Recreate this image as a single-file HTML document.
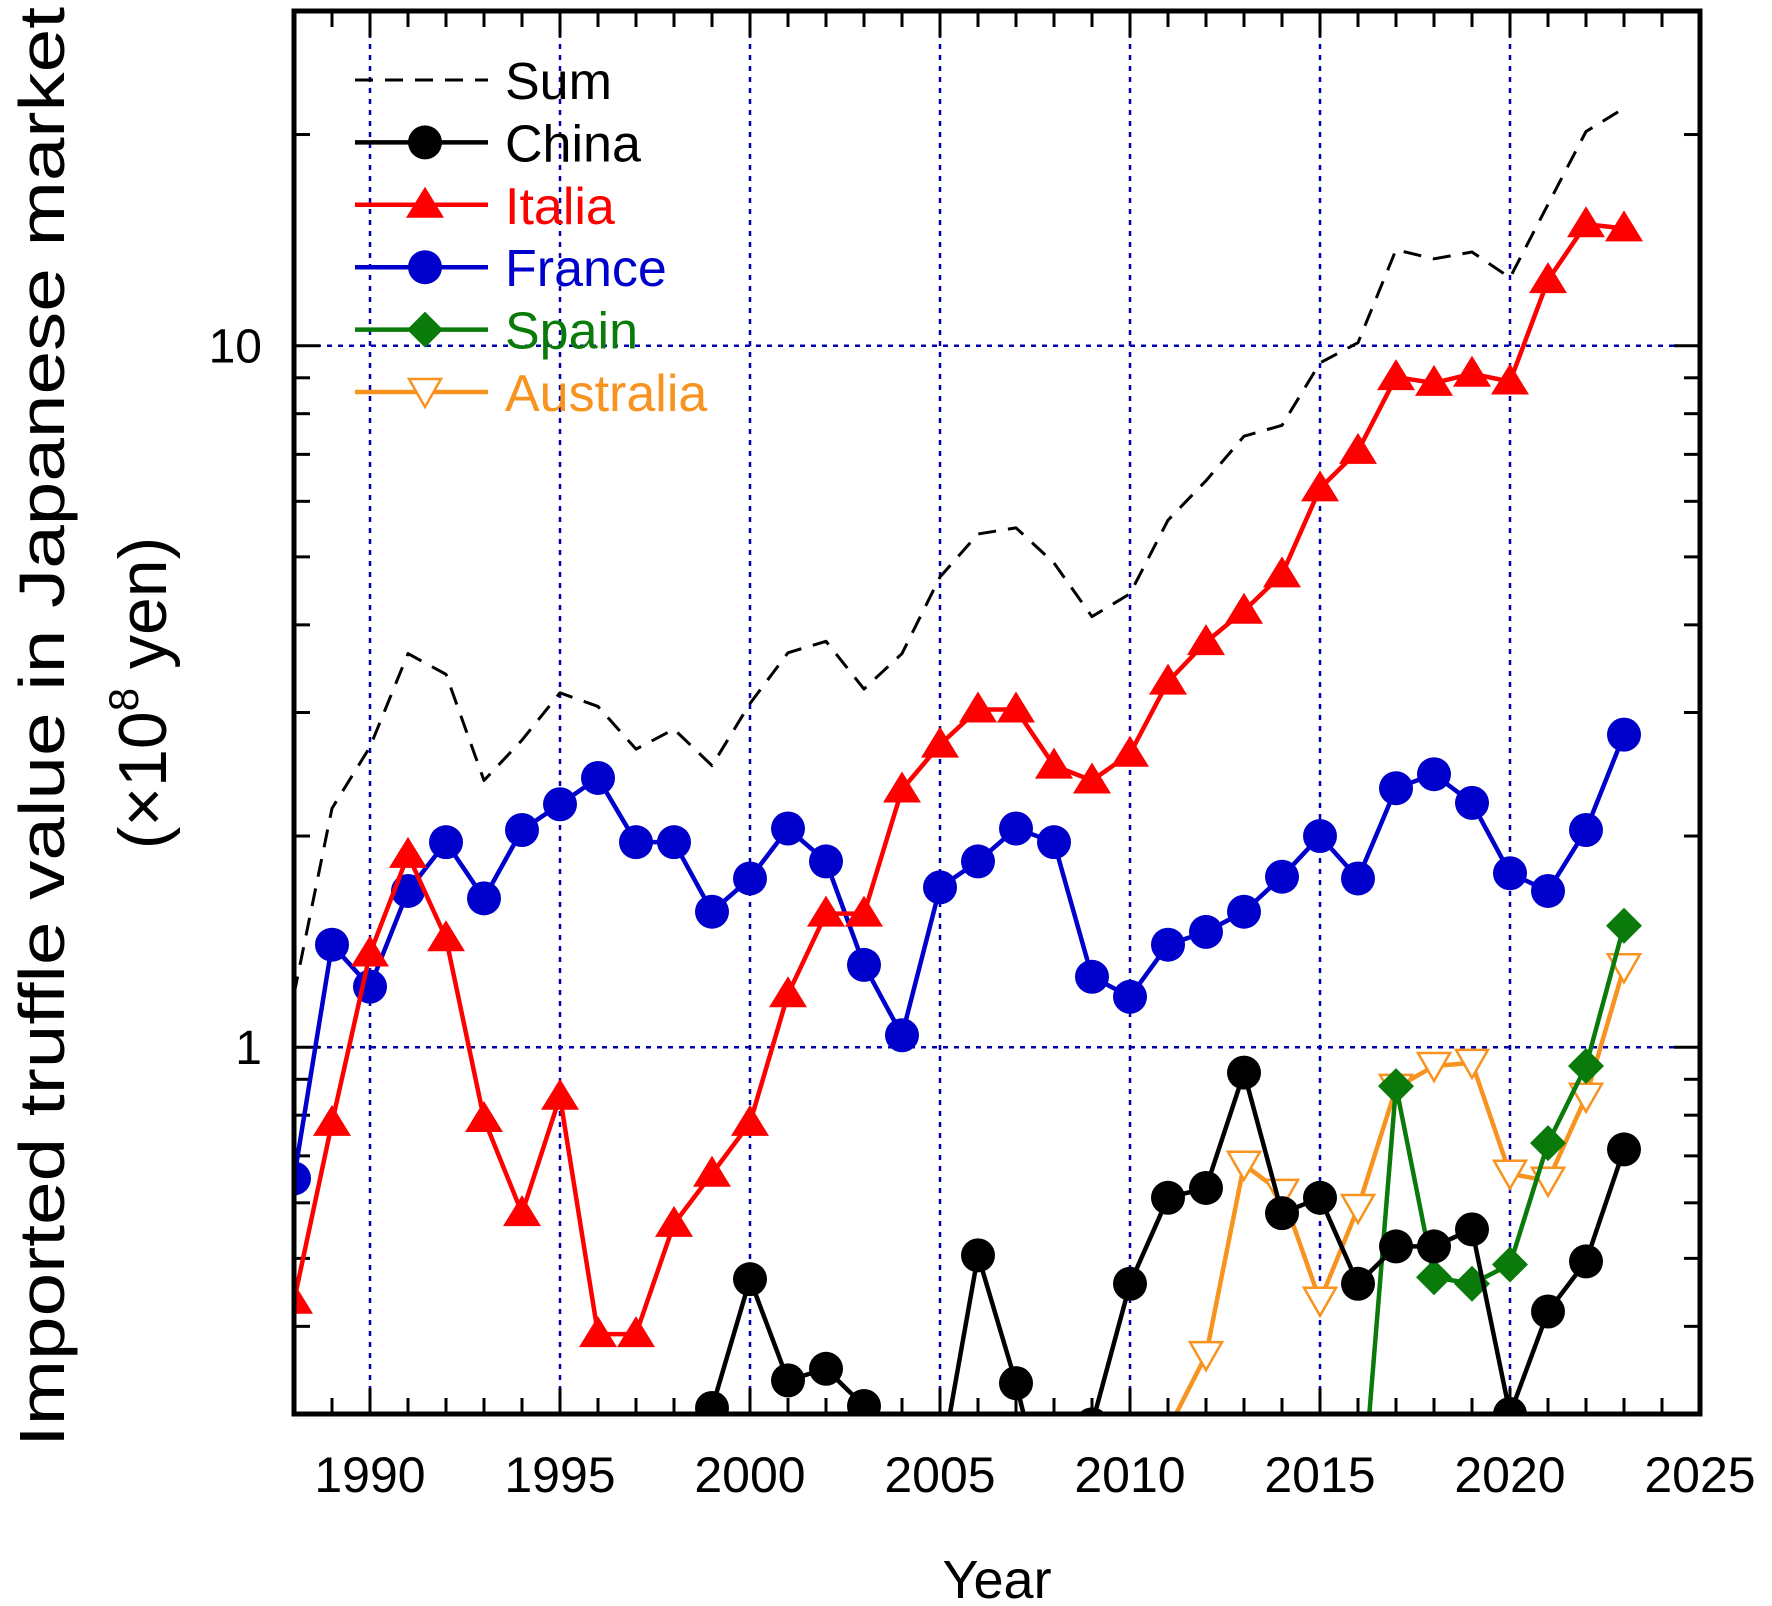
<!DOCTYPE html>
<html><head><meta charset="utf-8"><style>
body{margin:0;background:#fff}
svg{display:block;font-family:"Liberation Sans",Arial,sans-serif}
</style></head><body>
<svg id="chart" width="1772" height="1606" viewBox="0 0 1772 1606"></svg>
<script>
const years = [1988,1989,1990,1991,1992,1993,1994,1995,1996,1997,1998,1999,2000,2001,2002,2003,2004,2005,2006,2007,2008,2009,2010,2011,2012,2013,2014,2015,2016,2017,2018,2019,2020,2021,2022,2023];
const sumValues = [1.19,2.19,2.68,3.64,3.4,2.4,2.74,3.2,3.06,2.66,2.84,2.52,3.09,3.65,3.79,3.24,3.64,4.68,5.39,5.5,4.9,4.11,4.43,5.64,6.42,7.43,7.7,9.45,10.1,13.7,13.3,13.6,12.5,15.9,20.2,21.8];
const chinaValues = [null,null,null,null,null,null,null,null,null,null,null,0.306,0.467,0.335,0.348,0.308,0.2,0.25,0.505,0.332,0.2,0.29,0.46,0.61,0.63,0.92,0.58,0.61,0.46,0.52,0.52,0.55,0.30,0.42,0.495,0.715];
const italiaValues = [0.435,0.78,1.36,1.88,1.43,0.79,0.58,0.85,0.39,0.39,0.56,0.66,0.78,1.19,1.55,1.55,2.33,2.7,3.03,3.03,2.52,2.4,2.62,3.32,3.78,4.19,4.72,6.26,7.08,9.02,8.85,9.12,8.89,12.4,14.9,14.7];
const franceValues = [0.65,1.4,1.22,1.67,1.96,1.63,2.04,2.22,2.42,1.96,1.96,1.56,1.74,2.05,1.84,1.31,1.04,1.69,1.84,2.05,1.96,1.26,1.18,1.4,1.46,1.56,1.75,2.0,1.74,2.34,2.45,2.23,1.77,1.67,2.04,2.79];
const spainValues = [null,null,null,null,null,null,null,null,null,null,null,null,null,null,null,null,null,null,null,null,null,null,null,null,null,null,null,null,0.19,0.88,0.47,0.46,0.49,0.73,0.94,1.49];
const australiaValues = [null,null,null,null,null,null,null,null,null,null,null,null,null,null,null,null,null,null,null,null,null,null,null,0.285,0.364,0.68,0.62,0.435,0.59,0.875,0.94,0.95,0.66,0.645,0.85,1.3];
const xTickLabels = ["1990","1995","2000","2005","2010","2015","2020","2025"];
const yTickLabels = ["1","10"];

const L=294,R=1700,T=11,B=1414;
const X0=1988,X1=2025,YMIN=0.3,YMAX=30;
const xs=v=>L+(v-X0)/(X1-X0)*(R-L);
const ys=v=>B-(Math.log10(v)-Math.log10(YMIN))/(Math.log10(YMAX)-Math.log10(YMIN))*(B-T);
const NS="http://www.w3.org/2000/svg";
const svg=document.getElementById('chart');
function mk(tag,attrs,parent){const e=document.createElementNS(NS,tag);for(const k in attrs)e.setAttribute(k,attrs[k]);(parent||svg).appendChild(e);return e;}

const defs=mk('defs',{});
const cp=mk('clipPath',{id:'plotclip'},defs);
mk('rect',{x:L,y:T,width:R-L,height:B-T},cp);

const grid=mk('g',{});


for(let y=1990;y<=2020;y+=5){mk('line',{x1:xs(y),x2:xs(y),y1:T,y2:B,stroke:'#0000b0','stroke-width':2.5,'stroke-dasharray':'5,6'},grid);}
yTickLabels.forEach(t=>{const v=+t;mk('line',{x1:L,x2:R,y1:ys(v),y2:ys(v),stroke:'#0000b0','stroke-width':2.5,'stroke-dasharray':'5,6'},grid);});

const ticks=mk('g',{stroke:'#000','stroke-width':3});


for(let y=X0;y<=X1;y++){const len=y%5===0?26:16;const x=xs(y);
 mk('line',{x1:x,x2:x,y1:B,y2:B-len},ticks);mk('line',{x1:x,x2:x,y1:T,y2:T+len},ticks);}
[0.3,0.4,0.5,0.6,0.7,0.8,0.9,1,2,3,4,5,6,7,8,9,10,20,30].forEach(v=>{const len=(v===1||v===10)?26:16;const y=ys(v);
 mk('line',{x1:L,x2:L+len,y1:y,y2:y},ticks);mk('line',{x1:R,x2:R-len,y1:y,y2:y},ticks);});

function drawSeries(name,vals,color,marker,dashed){
 const g=mk('g',{'clip-path':'url(#plotclip)'});
 
 
 let segs=[],cur=[];
 vals.forEach((v,i)=>{if(v==null){if(cur.length)segs.push(cur);cur=[];}else cur.push([xs(years[i]),ys(v)]);});
 if(cur.length)segs.push(cur);
 segs.forEach(s=>{const p=mk('polyline',{points:s.map(q=>q.join(',')).join(' '),fill:'none',stroke:color,'stroke-width':dashed?3:4.5,'stroke-linejoin':'round'},g);
  if(dashed)p.setAttribute('stroke-dasharray','18,12');
  
  });
 if(marker){vals.forEach((v,i)=>{if(v==null)return;const m=drawMarker(marker,xs(years[i]),ys(v),color,g);
  
  });}
}
function drawMarker(type,x,y,color,g){
 if(type==='circle')return mk('circle',{cx:x,cy:y,r:17,fill:color},g);
 if(type==='tri')return mk('polygon',{points:`${x},${y-18} ${x-19},${y+13} ${x+19},${y+13}`,fill:color},g);
 if(type==='diamond')return mk('polygon',{points:`${x},${y-18} ${x+18},${y} ${x},${y+18} ${x-18},${y}`,fill:color},g);
 if(type==='itri')return mk('polygon',{points:`${x},${y+15} ${x-16},${y-13} ${x+16},${y-13}`,fill:'#fff',stroke:color,'stroke-width':2.5},g);
}
drawSeries('sum',sumValues,'#000',null,true);
drawSeries('australia',australiaValues,'#f7931e','itri');
drawSeries('spain',spainValues,'#0a7a0a','diamond');
drawSeries('china',chinaValues,'#000','circle');
drawSeries('france',franceValues,'#0000cc','circle');
drawSeries('italia',italiaValues,'#ff0000','tri');

const frame=mk('rect',{x:L,y:T,width:R-L,height:B-T,fill:'none',stroke:'#000','stroke-width':5});



xTickLabels.forEach(t=>{const e=mk('text',{x:xs(+t),y:1492,'font-size':50,'text-anchor':'middle',fill:'#000'});e.textContent=t;
 
 });
yTickLabels.forEach(t=>{const e=mk('text',{x:262,y:ys(+t)+17,'font-size':48,'text-anchor':'end',fill:'#000'});e.textContent=t;
 
 });

const xt=mk('text',{x:997,y:1598,'font-size':54,'text-anchor':'middle',fill:'#000'});xt.textContent='Year';


const yt=mk('text',{transform:'translate(64,727) rotate(-90)','font-size':64,'text-anchor':'middle',fill:'#000',textLength:1440,lengthAdjust:'spacingAndGlyphs'});yt.textContent='Imported truffle value in Japanese market';


const yt2=mk('text',{transform:'translate(166,693) rotate(-90)','font-size':68,'text-anchor':'middle',fill:'#000'});
yt2.innerHTML='(×10<tspan font-size="42" dy="-28">8</tspan><tspan dy="28"> yen)</tspan>';



const legendNames=['Sum','China','Italia','France','Spain','Australia'];
const legendColors=['#000','#000','#ff0000','#0000cc','#0a7a0a','#f7931e'];
const legendMarkers=[null,'circle','tri','circle','diamond','itri'];
const lg=mk('g',{});


legendNames.forEach((n,i)=>{const y=80+i*62.4;const g=mk('g',{},lg);
 
 
 const ln=mk('line',{x1:355,x2:488,y1:y,y2:y,stroke:legendColors[i],'stroke-width':i?4.5:3},g);
 if(!i)ln.setAttribute('stroke-dasharray','18,12');
 if(legendMarkers[i])drawMarker(legendMarkers[i],425,y,legendColors[i],g);
 const t=mk('text',{x:505,y:y+19,'font-size':52,fill:legendColors[i]},g);t.textContent=n;});
</script>
</body></html>
